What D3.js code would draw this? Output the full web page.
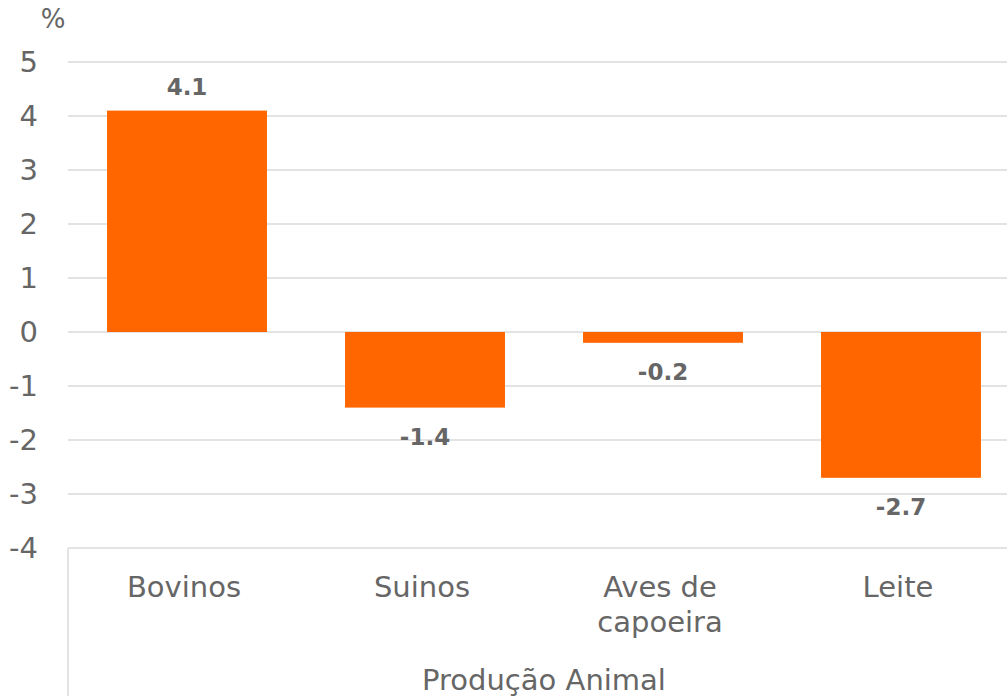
<!DOCTYPE html>
<html>
<head>
<meta charset="utf-8">
<script src="https://cdn.jsdelivr.net/npm/d3@7"></script>
<style>
  body { margin: 0; background: #fff; }
  text { font-family: "DejaVu Sans", Verdana, sans-serif; fill: #666666; }
</style>
</head>
<body>
<div id="chart"></div>
<script>
const categories = [["Bovinos"], ["Suinos"], ["Aves de", "capoeira"], ["Leite"]];
const values = [4.1, -1.4, -0.2, -2.7];
const yTicks = [-4, -3, -2, -1, 0, 1, 2, 3, 4, 5];
const groupLabel = "Produção Animal";
const unitLabel = "%";

const width = 1007;
const height = 696;
const margin = {top: 62, left: 68, right: -13, bottom: 148};

const viz = d3.select("#chart")
    .append("svg")
    .attr("width", width)
    .attr("height", height);

const names = categories.map(function(c) { return c.join(" "); });

// hyphen instead of unicode minus, like the original
const fmt = function(f) {
    return function(d) { return d3.format(f)(d).replace("\u2212", "-"); };
};

// Scales
const xScale = d3.scaleBand()
    .domain(names)
    .range([margin.left, width - margin.right])
    .paddingInner(0.328)
    .paddingOuter(0.164);

const yScale = d3.scaleLinear()
    .domain([-4, 5])
    .range([height - margin.bottom, margin.top]);

// Gridlines
viz.append("g")
    .selectAll("line")
    .data(yTicks)
    .enter()
    .append("line")
    .attr("x1", margin.left)
    .attr("x2", width)
    .attr("y1", function(d) { return yScale(d); })
    .attr("y2", function(d) { return yScale(d); })
    .attr("stroke", "#e3e3e3")
    .attr("stroke-width", 2);

// Left border of category axis
viz.append("line")
    .attr("x1", margin.left)
    .attr("x2", margin.left)
    .attr("y1", yScale(-4))
    .attr("y2", height)
    .attr("stroke", "#e3e3e3")
    .attr("stroke-width", 2);

// Y axis labels
const yAxis = viz.append("g")
    .attr("transform", `translate(${margin.left - 30},0)`)
    .call(d3.axisLeft(yScale).tickValues(yTicks).tickSize(0).tickPadding(0).tickFormat(fmt("d")));
yAxis.select(".domain").remove();
yAxis.selectAll("text")
    .attr("font-size", 29)
    .attr("font-family", "DejaVu Sans, Verdana, sans-serif")
    .attr("fill", "#666666");

viz.append("text")
    .attr("x", 53)
    .attr("y", 28)
    .attr("text-anchor", "middle")
    .attr("font-size", 26)
    .text(unitLabel);

// Bars
viz.selectAll("rect.bar")
    .data(values)
    .enter()
    .append("rect")
    .attr("class", "bar")
    .attr("x", function(d, i) { return xScale(names[i]); })
    .attr("width", xScale.bandwidth())
    .attr("y", function(d) { return yScale(Math.max(0, d)); })
    .attr("height", function(d) { return Math.abs(yScale(d) - yScale(0)); })
    .attr("fill", "#ff6600");

// Value labels
viz.selectAll("text.val")
    .data(values)
    .enter()
    .append("text")
    .attr("class", "val")
    .attr("x", function(d, i) { return xScale(names[i]) + xScale.bandwidth() / 2; })
    .attr("y", function(d) { return d >= 0 ? yScale(d) - 16 : yScale(d) + 37; })
    .attr("text-anchor", "middle")
    .attr("font-size", 23)
    .attr("font-weight", "bold")
    .text(fmt(".1f"));

// Category labels
const cat = viz.selectAll("text.cat")
    .data(categories)
    .enter()
    .append("text")
    .attr("class", "cat")
    .attr("x", function(d, i) { return xScale(names[i]) + xScale.bandwidth() / 2 - 3; })
    .attr("y", 597)
    .attr("text-anchor", "middle")
    .attr("font-size", 29);

cat.selectAll("tspan")
    .data(function(d) { return d; })
    .enter()
    .append("tspan")
    .attr("x", function() { return d3.select(this.parentNode).attr("x"); })
    .attr("dy", function(d, i) { return i === 0 ? 0 : 35; })
    .text(function(d) { return d; });

viz.append("text")
    .attr("x", (margin.left + width - margin.right) / 2)
    .attr("y", 690)
    .attr("text-anchor", "middle")
    .attr("font-size", 29)
    .text(groupLabel);
</script>
</body>
</html>
